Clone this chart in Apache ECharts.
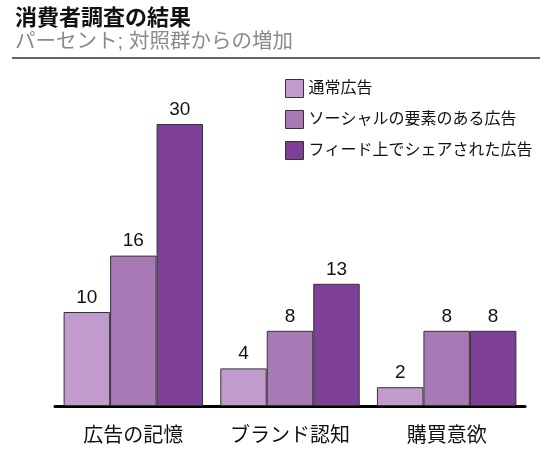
<!DOCTYPE html>
<html>
<head>
<meta charset="utf-8">
<script src="https://cdn.jsdelivr.net/npm/echarts@6/dist/echarts.min.js"></script>
<style>
  html, body { margin: 0; padding: 0; background: #fff; }
  #chart { width: 560px; height: 455px; }
</style>
</head>
<body>
<div id="chart"></div>
<script>
const categories = ["広告の記憶", "ブランド認知", "購買意欲"];
const seriesNames = ["通常広告", "ソーシャルの要素のある広告", "フィード上でシェアされた広告"];
const normalAds = [10, 4, 2];
const socialAds = [16, 8, 8];
const sharedAds = [30, 13, 8];
const colors = ["#c09bcb", "#a77ab5", "#7e3f97"];

const font = "'Liberation Sans', 'Noto Sans CJK JP', sans-serif";

const chart = echarts.init(document.getElementById("chart"));

function barSeries(name, data, color) {
  return {
    name: name,
    type: "bar",
    data: data,
    barGap: "0%",
    barCategoryGap: "11%",
    itemStyle: { color: color, borderColor: "#333", borderWidth: 1 },
    label: {
      show: true,
      position: "top",
      distance: 5,
      fontSize: 19,
      color: "#111",
      fontFamily: font
    }
  };
}

chart.setOption({
  animation: false,
  textStyle: { fontFamily: font },
  title: {
    text: "消費者調査の結果",
    subtext: "パーセント; 対照群からの増加",
    left: 10,
    top: 3,
    itemGap: 2,
    textStyle: { fontSize: 22, fontWeight: "bold", color: "#111", fontFamily: font },
    subtextStyle: { fontSize: 20.5, color: "#8a8a8a", fontFamily: font }
  },
  graphic: [{
    type: "line",
    shape: { x1: 12, y1: 58, x2: 540, y2: 58 },
    style: { stroke: "#333", lineWidth: 1.5 }
  }],
  legend: {
    orient: "vertical",
    left: 280,
    top: 74,
    itemWidth: 18,
    itemHeight: 18,
    itemGap: 12,
    icon: "rect",
    itemStyle: { borderColor: "#333", borderWidth: 1 },
    textStyle: { fontSize: 16, color: "#111", fontFamily: font },
    data: seriesNames
  },
  grid: { left: 55, right: 35, top: 124, bottom: 49 },
  xAxis: {
    type: "category",
    data: categories,
    axisLine: { lineStyle: { color: "#000", width: 3 } },
    axisTick: { show: false },
    axisLabel: { fontSize: 20, color: "#111", margin: 20, fontFamily: font }
  },
  yAxis: {
    type: "value",
    min: 0,
    max: 30,
    show: false,
    splitLine: { show: false }
  },
  series: [
    barSeries(seriesNames[0], normalAds, colors[0]),
    barSeries(seriesNames[1], socialAds, colors[1]),
    barSeries(seriesNames[2], sharedAds, colors[2])
  ]
});
</script>
</body>
</html>
